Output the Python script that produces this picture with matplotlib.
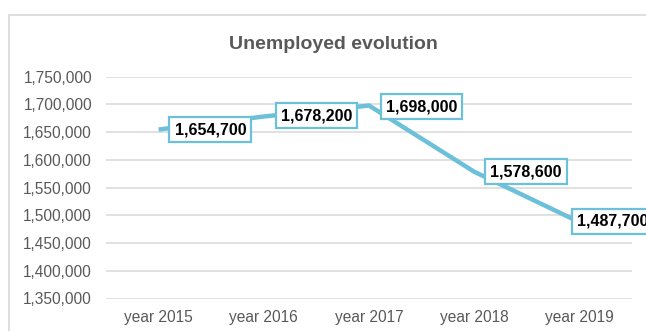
import matplotlib
matplotlib.use("Agg")
import matplotlib.pyplot as plt
from matplotlib.patches import Rectangle
from matplotlib.ticker import FuncFormatter

plt.rcParams["font.family"] = ["Liberation Sans", "DejaVu Sans"]

years = ["year 2015", "year 2016", "year 2017", "year 2018", "year 2019"]
unemployed = [1654700, 1678200, 1698000, 1578600, 1487700]
# label box offsets in pixels from each point (dx, dy)
label_offsets = [(16, 0), (17, 1), (17, -1), (16, 0), (-2, 1)]

line_color = "#6cc0da"
text_gray = "#595959"
grid_color = "#d9d9d9"

fig = plt.figure(figsize=(6.46, 3.31), dpi=100, facecolor="white")

# outer chart frame
fig.patches.append(Rectangle((9.3 / 646, -0.1), 1.2, 0.1 + 316 / 331,
                             transform=fig.transFigure, fill=False,
                             edgecolor=grid_color, linewidth=1.2))

ax = fig.add_axes([106 / 646, 32.5 / 331, 526 / 646, 221.8 / 331])
x = range(len(years))
ax.plot(x, unemployed, color=line_color, linewidth=3.2, solid_capstyle="butt",
        zorder=3)

for i, v in enumerate(unemployed):
    dx, dy = label_offsets[i]
    ax.annotate(f"{v:,}", xy=(i, v), xytext=(dx, dy), textcoords="offset pixels",
                ha="left", va="center", fontsize=11.5, fontweight="bold",
                color="black", annotation_clip=False, zorder=5,
                bbox=dict(boxstyle="square,pad=0.32", facecolor="white",
                          edgecolor=line_color, linewidth=1.6))

ax.set_xlim(-0.5, len(years) - 0.5)
ax.set_ylim(1350000, 1750000)
ax.set_yticks(range(1350000, 1750001, 50000))
ax.yaxis.set_major_formatter(FuncFormatter(lambda v, p: f"{int(v):,}"))
ax.set_xticks(list(x))
ax.set_xticklabels(years)

ax.grid(axis="y", color=grid_color, linewidth=1.1, zorder=0)
ax.set_axisbelow(True)
for sp in ax.spines.values():
    sp.set_visible(False)
ax.tick_params(axis="both", length=0, labelsize=11.2, labelcolor=text_gray)
ax.tick_params(axis="y", pad=10)
ax.tick_params(axis="x", pad=8)

fig.text(0.516, 0.867, "Unemployed evolution", ha="center", va="center",
         fontsize=14, fontweight="bold", color=text_gray)

plt.savefig("out.png", dpi=100, facecolor=fig.get_facecolor())
